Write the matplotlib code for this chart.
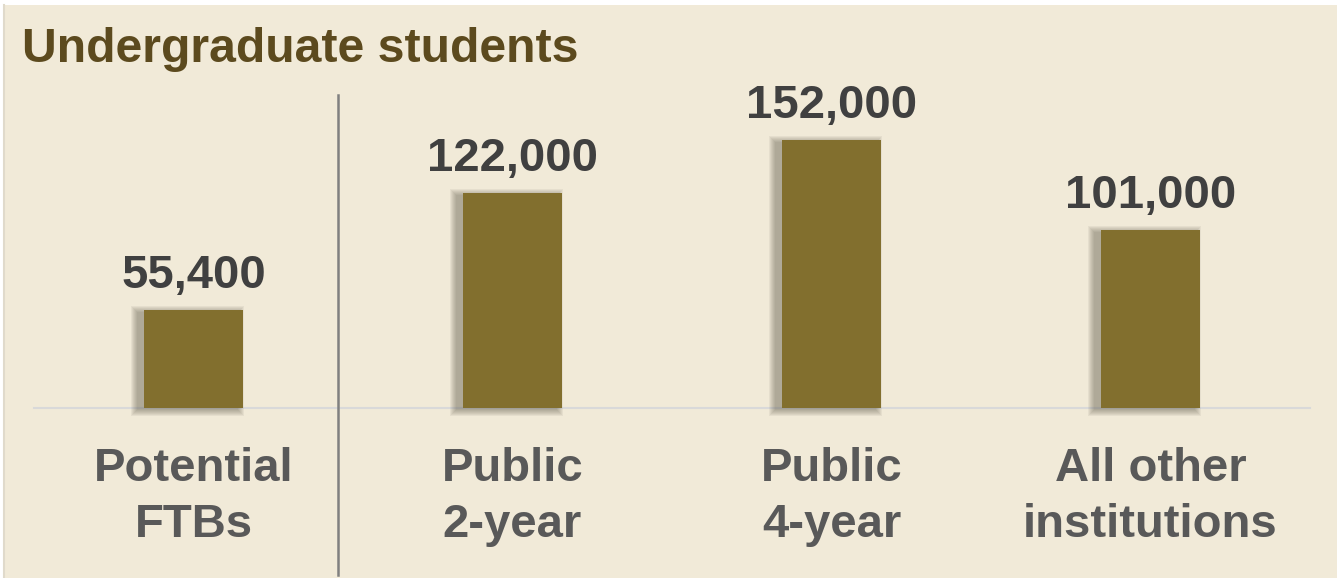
import matplotlib.pyplot as plt
from matplotlib.patches import Rectangle
from matplotlib.lines import Line2D

plt.rcParams['font.family'] = ['Liberation Sans', 'DejaVu Sans']

categories = ['Potential\nFTBs', 'Public\n2-year', 'Public\n4-year', 'All other\ninstitutions']
values = [55400, 122000, 152000, 101000]
value_labels = ['55,400', '122,000', '152,000', '101,000']

W, H = 1337, 578
fig = plt.figure(figsize=(W / 100, H / 100), dpi=100)
fig.patch.set_facecolor('white')

# beige panel
fig.patches.append(Rectangle((4 / W, 0), 1, (H - 5) / H, transform=fig.transFigure,
                             facecolor='#F1EAD8', edgecolor='none', zorder=-10))
fig.add_artist(Line2D([4 / W, 4 / W], [0, (H - 5) / H], color='#E0DACB', lw=1.5, zorder=-9))

ax = fig.add_axes([34 / W, (H - 408) / H, 1276 / W, (408 - 60) / H])
ax.set_facecolor('none')
ax.set_zorder(1)
ax.set_xlim(-0.5, 3.5)
ax.set_ylim(0, 197400)

x = list(range(len(values)))
px_x = 1 / 319
px_y = 152000 / 268

# soft shadow behind the bars (falls to the lower left)
for i, v in zip(x, values):
    for k in range(7, 0, -1):
        ax.add_patch(Rectangle((i - 0.155 - (6 + k) * px_x, -(1 + k) * px_y),
                               0.31 + (2 * k) * px_x, v + (2 * k - 2) * px_y,
                               facecolor='#5E5A4C', edgecolor='none', alpha=0.08,
                               zorder=1, clip_on=False))

ax.bar(x, values, width=0.31, color='#826F2E', zorder=2)

for i, v, lab in zip(x, values, value_labels):
    ax.annotate(lab, xy=(i, v), xytext=(0, 16), textcoords='offset points',
                ha='center', va='baseline', fontsize=34, fontweight='bold', color='#404040')

for i, cat in zip(x, categories):
    ax.annotate(cat, xy=(i, 0), xytext=(0, -92.9), textcoords='offset points',
                ha='center', va='baseline', fontsize=34, fontweight='bold',
                color='#595959', linespacing=1.34, annotation_clip=False)

for s in ['top', 'right', 'left']:
    ax.spines[s].set_visible(False)
ax.spines['bottom'].set_color('#D9D9D9')
ax.spines['bottom'].set_linewidth(1.5)
ax.spines['bottom'].set_zorder(0.5)
ax.set_xticks([])
ax.set_yticks([])

# separator between potential FTBs and institution groups
fig.add_artist(Line2D([338 / W, 338 / W], [(H - 95) / H, (H - 575) / H],
                      color='#808080', lw=1.8, zorder=5))

fig.text(22 / W, (H - 62) / H, 'Undergraduate students', ha='left', va='baseline',
         fontsize=34.7, fontweight='bold', color='#5C4A1E')

plt.savefig('out.png', dpi=100, facecolor=fig.get_facecolor())
